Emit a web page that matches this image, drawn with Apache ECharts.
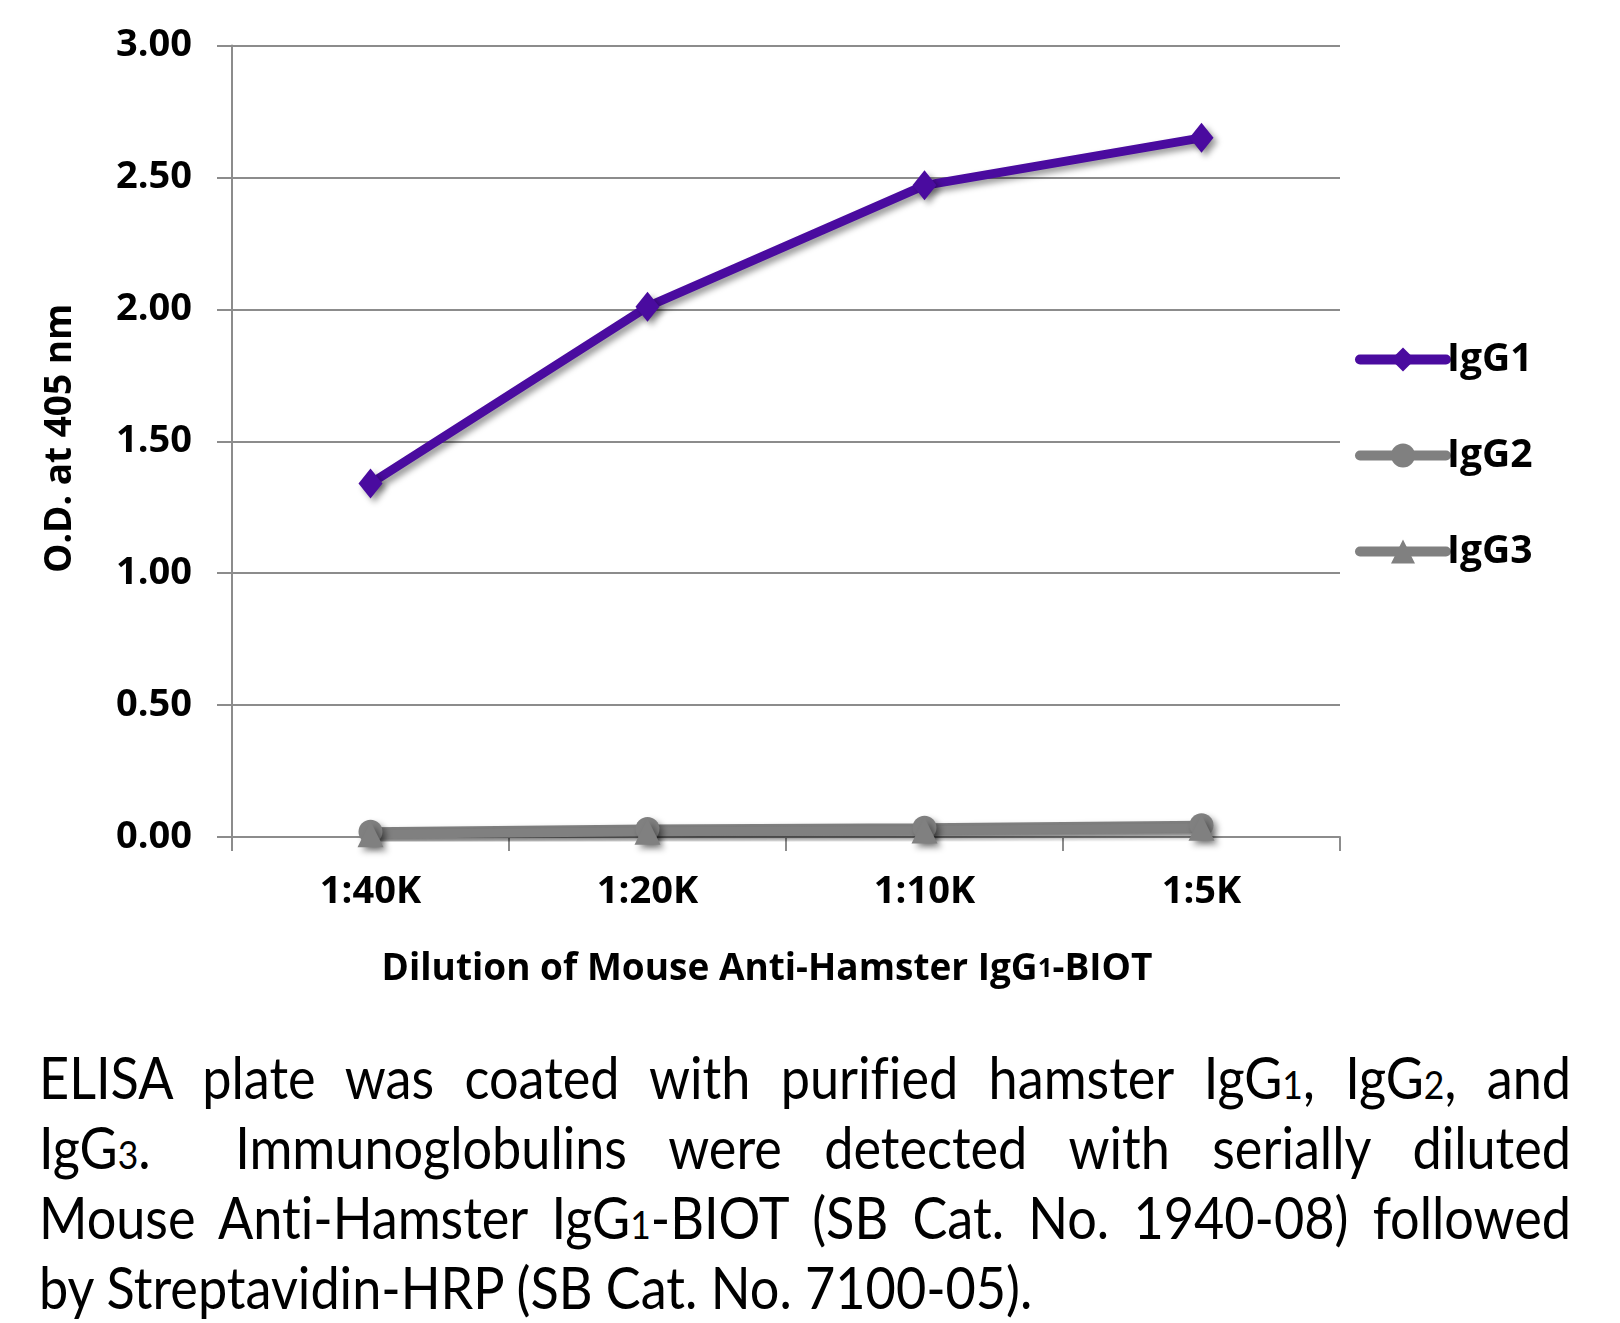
<!DOCTYPE html>
<html><head><meta charset="utf-8">
<script src="https://cdn.jsdelivr.net/npm/echarts@6/dist/echarts.min.js"></script>
<style>
html,body{margin:0;padding:0;background:#fff;}
#chart{position:absolute;left:0;top:0;width:1620px;height:1000px;}
#caption{position:absolute;left:39px;top:1042px;width:1532px;font-family:Lato,"Open Sans",sans-serif;font-size:58px;line-height:70px;color:#000;font-variant-ligatures:none;}
#caption .row{height:70px;white-space:nowrap;}
#caption .ln{display:inline-block;white-space:nowrap;transform-origin:0 0;}
.s{font-size:0.68em;}
</style>
</head><body>
<div id="chart"></div>
<div id="caption">
<div class="row"><span class="ln" data-j="1">ELISA plate was coated with purified hamster IgG<span class="s">1</span>, IgG<span class="s">2</span>, and</span></div>
<div class="row"><span class="ln" data-j="1">IgG<span class="s">3</span>.&nbsp; Immunoglobulins were detected with serially diluted</span></div>
<div class="row"><span class="ln" data-j="1">Mouse Anti-Hamster IgG<span class="s">1</span>-BIOT (SB Cat. No. 1940-08) followed</span></div>
<div class="row"><span class="ln">by Streptavidin-HRP (SB Cat. No. 7100-05).</span></div>
</div>
<script>
const categories = ['1:40K', '1:20K', '1:10K', '1:5K'];
const seriesNames = ['IgG1', 'IgG2', 'IgG3'];
const igg1 = [1.34, 2.01, 2.47, 2.65];
const igg2 = [0.02, 0.03, 0.035, 0.045];
const igg3 = [0.01, 0.02, 0.025, 0.035];
const yMin = 0, yMax = 3, yStep = 0.5;

// condense the caption font slightly and justify lines to the block width
const TARGET = 1532, CONDENSE = 0.9;
document.querySelectorAll('#caption .ln').forEach(el => {
  const w = el.getBoundingClientRect().width;
  let c = CONDENSE;
  if (el.dataset.j) {
    if (w * c > TARGET) c = TARGET / w;
    const n = (el.textContent.match(/[ \u00a0]/g) || []).length;
    const ws = (TARGET / c - w) / n;
    el.style.wordSpacing = ws + 'px';
  }
  el.style.transform = 'scaleX(' + c + ')';
});

const FONT = '"Open Sans", "Noto Sans", sans-serif';
const gridColor = '#8c8c8c';
const shadow = {shadowColor: 'rgba(0,0,0,0.4)', shadowBlur: 6, shadowOffsetX: 4, shadowOffsetY: 4};
const boldText = {fontFamily: FONT, fontWeight: 'bold', fontSize: 38, color: '#000'};

const chart = echarts.init(document.getElementById('chart'));
function mk(name, data, color, symbol, size, z) {
  return {
    name, type: 'line', data, symbol, symbolSize: size, z,
    lineStyle: Object.assign({color, width: 9}, shadow),
    itemStyle: Object.assign({color}, shadow),
    emphasis: {disabled: true}, animation: false
  };
}
chart.setOption({
  animation: false,
  grid: {left: 232, right: 280, top: 45.5, bottom: 163},
  legend: {
    orient: 'vertical', left: 1350, top: 335, itemWidth: 86, itemHeight: 30, itemGap: 57,
    textStyle: Object.assign({}, boldText, {fontSize: 39, padding: [0, 0, 0, -4]}),
    lineStyle: {width: 10, cap: 'round', shadowBlur: 0, shadowOffsetX: 0, shadowOffsetY: 0, shadowColor: 'transparent'},
    itemStyle: {shadowBlur: 0, shadowOffsetX: 0, shadowOffsetY: 0, shadowColor: 'transparent'},
    data: seriesNames
  },
  xAxis: {
    type: 'category', data: categories, boundaryGap: true,
    axisLine: {lineStyle: {color: gridColor, width: 2}},
    axisTick: {show: true, length: 14, alignWithLabel: false, lineStyle: {color: gridColor, width: 2}},
    axisLabel: Object.assign({}, boldText, {margin: 36}),
    name: 'Dilution of Mouse Anti-Hamster IgG{s|1}-BIOT',
    nameLocation: 'middle', nameGap: 114,
    nameTextStyle: Object.assign({}, boldText, {fontSize: 37, padding: [0, 38, 0, 0], rich: {s: {fontFamily: FONT, fontWeight: 'bold', fontSize: 26, color: '#000'}}})
  },
  yAxis: {
    type: 'value', min: yMin, max: yMax, interval: yStep,
    axisLine: {show: true, lineStyle: {color: gridColor, width: 2}},
    axisTick: {show: true, length: 15, lineStyle: {color: gridColor, width: 2}},
    splitLine: {lineStyle: {color: gridColor, width: 2}},
    axisLabel: Object.assign({}, boldText, {margin: 40, formatter: v => v.toFixed(2)}),
    name: 'O.D. at 405 nm', nameLocation: 'middle', nameRotate: 90, nameGap: 153,
    nameTextStyle: Object.assign({}, boldText, {fontSize: 37, padding: [0, 0, 0, 6]})
  },
  series: [
    mk('IgG1', igg1, '#4a0b9f', 'diamond', [24, 30], 3),
    mk('IgG2', igg2, '#808080', 'circle', 24, 2),
    mk('IgG3', igg3, '#808080', 'triangle', 26, 2)
  ]
});
</script>
</body></html>
